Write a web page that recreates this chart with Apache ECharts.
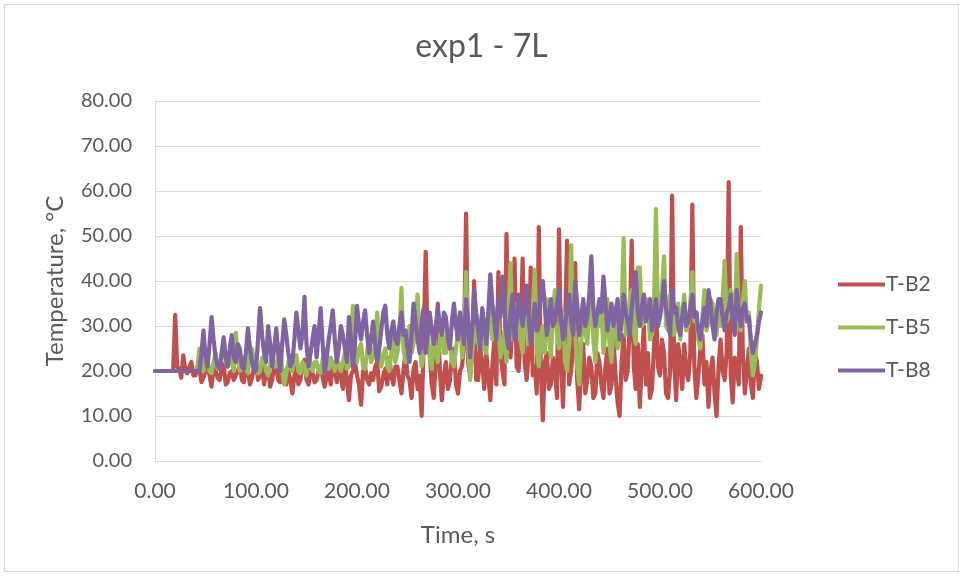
<!DOCTYPE html>
<html>
<head>
<meta charset="utf-8">
<script src="https://cdn.jsdelivr.net/npm/echarts@6/dist/echarts.min.js"></script>
<style>
html,body{margin:0;padding:0;background:#fff;}
#wrap{position:absolute;left:4px;top:4px;width:955px;height:568px;border:1px solid #d9d9d9;box-sizing:border-box;}
#chart{position:absolute;left:0;top:0;width:963px;height:577px;}
</style>
</head>
<body>
<div id="wrap"></div>
<div id="chart"></div>
<script>
const times = [
 0,2,4,6,8,10,12,14,16,18,20,22,24,26,28,30,32,34,36,38,
 40,42,44,46,48,50,52,54,56,58,60,62,64,66,68,70,72,74,76,78,
 80,82,84,86,88,90,92,94,96,98,100,102,104,106,108,110,112,114,116,118,
 120,122,124,126,128,130,132,134,136,138,140,142,144,146,148,150,152,154,156,158,
 160,162,164,166,168,170,172,174,176,178,180,182,184,186,188,190,192,194,196,198,
 200,202,204,206,208,210,212,214,216,218,220,222,224,226,228,230,232,234,236,238,
 240,242,244,246,248,250,252,254,256,258,260,262,264,266,268,270,272,274,276,278,
 280,282,284,286,288,290,292,294,296,298,300,302,304,306,308,310,312,314,316,318,
 320,322,324,326,328,330,332,334,336,338,340,342,344,346,348,350,352,354,356,358,
 360,362,364,366,368,370,372,374,376,378,380,382,384,386,388,390,392,394,396,398,
 400,402,404,406,408,410,412,414,416,418,420,422,424,426,428,430,432,434,436,438,
 440,442,444,446,448,450,452,454,456,458,460,462,464,466,468,470,472,474,476,478,
 480,482,484,486,488,490,492,494,496,498,500,502,504,506,508,510,512,514,516,518,
 520,522,524,526,528,530,532,534,536,538,540,542,544,546,548,550,552,554,556,558,
 560,562,564,566,568,570,572,574,576,578,580,582,584,586,588,590,592,594,596,598,
 600];

const tB2 = [
 20,20,20,20,20,20,20,20,20,20, 32.5,21,20.5,18.5,23.5,20,19.5,21,22,19,
 19,21,20.5,17.5,18.5,20,21,19,16.5,21, 20,18.5,18,20.5,21.5,17,17.5,19.5,20,18,
 19,20,21.5,18,17.5,21,20,17,18.5,20.5, 22,18,19,21,17,19.5,20.5,16.5,18,21,
 21,18,17.5,20.5,19.5,17,20,18,15,19, 21,17,18,21.5,22.5,18,17,20,19.5,17.5,
 18,20,21,18.5,16.5,19,20,17,22,20, 17.5,21,19,16,21.5,18,13.5,19,20,22,
 19,17,12.5,20,21,18,17,19.5,18,21, 22,15.5,16.5,19,20.5,17,23,19,17,21,
 21,18,15,20,24,19,18,14,20.5,22, 16,19,10,26,46.5,25,24,17,14,22,
 35,20,13.5,19,22,16,18,23,25,17, 15,20,21,26,55,22,19,24,40,18,
 18,25,22,16,24,19,13.5,21,27,17, 42,24,20,17,50.5,26,23,30,45,21,
 20,27,45,22,18,24,43,19,21,15, 52,20,9,22,24,16,17,23,20,14,
 51.5,22,12,30,49,17,20,25,44,18, 11.5,21,26,15,18,23,21,14,15,24,
 22,17,14,21,25,15,17,27,19,13, 10,22,28,18,20,30,49,21,16,26,
 12,22,30,17,24,14,16,25,35,21, 19,27,24,15,14,20,59,22,13.5,26,
 22,16,26,20,18,24,57,21,14,19, 25,28,17,22,12,20,23,15,10,21,
 27,20,18,24,62,19,13,23,21,17, 52,24,15,20,25,17,14,24,22,16,
 19];

const tB5 = [
 20,20,20,20,20,20,20,20,20,20, 20,20,20,20,20,20,20,20,20,20,
 20,21,25,21.5,20,23,22.5,20,19.5,22, 24,20.5,21,23.5,27,22,21,24,22,20,
 28.5,23,20,22,23,20.5,19.5,24,25,22, 21,19.5,20,23,22.5,20,19,21.5,24,21,
 21,23,26,20,17,19.5,22,21,20,22.5, 23.5,20,19.5,22,21,19,24,21.5,20,22,
 22,20,19.5,22.5,25,21,20.5,23,21.5,20, 23,21,20,22,24,20.5,21,27,34.5,23,
 22,25,26,21,20.5,24,28,22,23,26, 33,24,21,23.5,25,21,20,24,27,22,
 24,28,38.5,25,22,27,30,24,26,31, 37,26,21,24,25,29,23,20.5,28,24,
 22,27,31,24,24,29,26,22,21,25, 29,33,23,28,42,26,18,24,30,27,
 26,30,33,25,24,31,36,27,28,34, 30,23,25,29,22,33,44,27,29,35,
 32,27,24,31,35,26,27,33,42.5,25, 21,28,30,24,36,29,23,33,38,28,
 25,30,33,22,20,27,48,31,28,21, 17,26,35,29,26,33,38,27,22,31,
 30,35,24,29,36,26,22,31,34,25, 27,33,49.5,28,30,36,38,29,26,43,
 43,30,31,36,35,27,28,34,56,31, 33,38,45.5,30,29,37,36,28,31,35,
 27,33,37,29,30,35,42,31,33,27, 25,32,38,29,31,36,35,30,28,34,
 30,36,44.5,31,32,38,36,30,46,33, 29,35,40,31,33,24,19,22,27,34,
 39];

const tB8 = [
 20,20,20,20,20,20,20,20,20,20, 20,20,20,20,20,20,20,20,20,20,
 20,20,20,24,29,23,21,26,32,27, 23,21,20.5,24,27.5,23,21,25,28,23,
 22,26,25,21,20.5,24,29.5,25,22,20, 20,27,34,28,24,22,30,26,21,25,
 29.5,24,20,26,31.5,28,24,21,22,27, 33,29,25,28,36.5,26,21,24,27,30,
 23,28,34,26,19.5,23,27,30,33.5,27, 22,25,30,28,25,22,32,27,21,26,
 34.5,30,27,31,33.5,28,24,27,31,26, 22,25,29,33,34.5,28,25,29,31,27,
 26,30,33,28,29,25,22,28,35,31, 27,24,31,34,24,28,33,29,26,30,
 34,30,28,33,32,27,25,31,35,30, 27,33,30,26,36,31,23,29,38,33,
 29,25,34,30,26,33,41.5,35,31,27, 36,32,41,34,28,25,33,37,27,31,
 37,33,30,34,39,32,26,30,35,29, 33,37,40,34,28,32,36,30,31,35,
 38,32,27,30,34,37,31,28,40,35, 28,32,36,30,32,37,45.5,34,30,33,
 36,33,41,35,29,32,35,30,33,36, 27,31,37,33,31,28,34,38,42,33,
 30,34,37,31,33,36,29,32,36,30, 32,35,40,34,31,28,38,33,34,30,
 28,32,35,30,31,34,37,32,33,29, 27,31,34,30,38,35,30,27,33,36,
 36,32,29,33,34,37,31,28,38,33, 30,34,35,31,32,27,24,26,28,31,
 33];

const seriesNames = ['T-B2','T-B5','T-B8'];
const seriesColors = ['#C0504D','#9BBB59','#8064A2'];
const seriesValues = [tB2, tB5, tB8];

const FONT = 'Lato, "Open Sans", sans-serif';
const TXT = '#595959';

const chart = echarts.init(document.getElementById('chart'), null, {renderer:'canvas'});
chart.setOption({
  animation:false,
  backgroundColor:'transparent',
  title:{text:'exp1 - 7L',left:'center',top:26,
    textStyle:{fontFamily:FONT,fontSize:32,fontWeight:'normal',color:TXT}},
  grid:{left:155,right:202,top:101,bottom:116,containLabel:false},
  legend:{orient:'vertical',left:833,top:269,itemGap:22,itemWidth:47,itemHeight:4,
    icon:'rect',data:seriesNames,
    textStyle:{fontFamily:FONT,fontSize:21,color:TXT,padding:[0,0,0,-4]}},
  xAxis:{type:'value',min:0,max:600,interval:100,
    name:'Time, s',nameLocation:'middle',nameGap:62,
    nameTextStyle:{fontFamily:FONT,fontSize:24,color:TXT},
    axisLine:{show:true,lineStyle:{color:'#d9d9d9',width:1}},
    axisTick:{show:false},
    splitLine:{show:false},
    axisLabel:{fontFamily:FONT,fontSize:21,color:TXT,margin:20,
      formatter:v=>v.toFixed(2)}},
  yAxis:{type:'value',min:0,max:80,interval:10,
    name:'Temperature, °C',nameLocation:'middle',nameGap:88,nameRotate:90,
    nameTextStyle:{fontFamily:FONT,fontSize:24,color:TXT},
    axisLine:{show:true,lineStyle:{color:'#d9d9d9',width:1}},
    axisTick:{show:false},
    splitLine:{show:true,lineStyle:{color:'#d9d9d9',width:1}},
    axisLabel:{fontFamily:FONT,fontSize:20,color:TXT,margin:23,
      formatter:v=>v.toFixed(2)}},
  series: seriesNames.map((n,k)=>({
    name:n,type:'line',showSymbol:false,symbol:'none',
    data: times.map((t,i)=>[t, seriesValues[k][i]]),
    lineStyle:{color:seriesColors[k],width:4.2,join:'round',cap:'round'},
    itemStyle:{color:seriesColors[k]},
    z:2+k
  }))
});
</script>
</body>
</html>
